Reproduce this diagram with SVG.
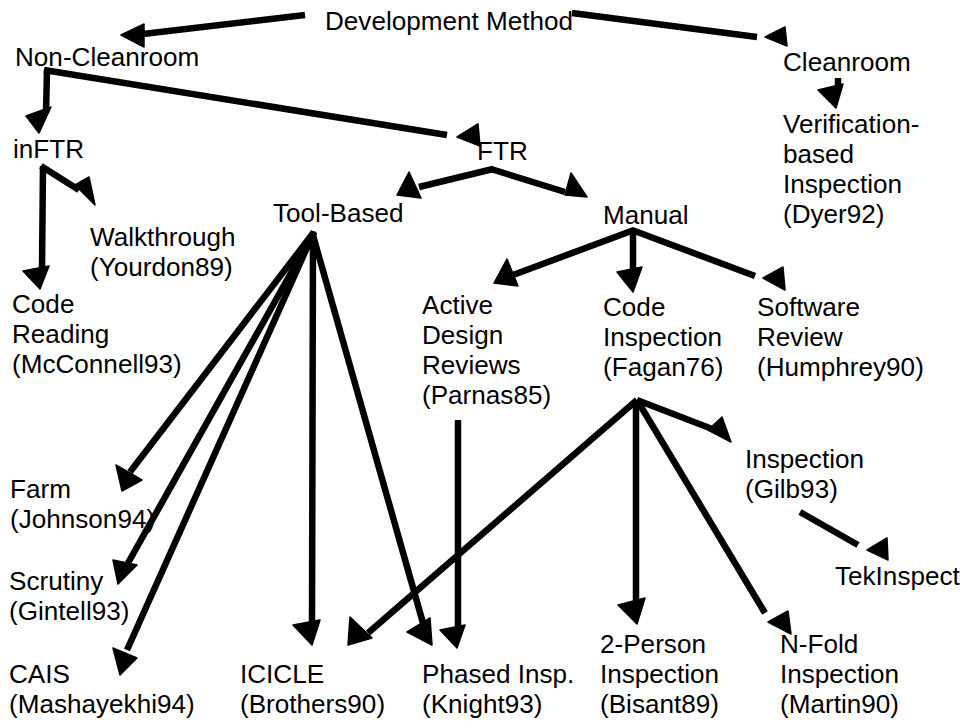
<svg xmlns="http://www.w3.org/2000/svg" width="965" height="724" viewBox="0 0 965 724">
<style>
text{font-family:"Liberation Sans",Arial,sans-serif;font-size:25px;fill:#000}
.c line{stroke:#000;stroke-width:6.5;stroke-linecap:butt}
.c polygon{fill:#000;stroke:#000;stroke-width:1.5;stroke-linejoin:round}
</style>
<rect width="965" height="724" fill="#fff"/>
<g id="connectors" class="c">
<line x1="305" y1="15" x2="143" y2="34"/><polygon points="121,35 144,24 144,47"/>
<line x1="572" y1="13" x2="757" y2="37"/><polygon points="765,37 785,27 787,46"/>
<line x1="47" y1="70" x2="46" y2="112"/><polygon points="26,116 51,107 39,133"/>
<line x1="44" y1="70" x2="447" y2="135"/><polygon points="457,137 478,124 480,146"/>
<line x1="43" y1="166" x2="42" y2="268"/><polygon points="23,271 49,266 40,289"/>
<line x1="41" y1="166" x2="79" y2="190"/><polygon points="75,185 89,177 95,205"/>
<line x1="493" y1="169" x2="419" y2="187"/><polygon points="397,195 409,172 421,198"/>
<line x1="491" y1="169" x2="565" y2="192"/><polygon points="565,195 571,173 587,197"/>
<line x1="634" y1="230" x2="513" y2="275"/><polygon points="494,283 507,259 518,286"/>
<line x1="633" y1="230" x2="633" y2="270"/><polygon points="617,272 642,267 633,292"/>
<line x1="632" y1="230" x2="755" y2="276"/><polygon points="763,278 783,267 785,290"/>
<line x1="637" y1="400" x2="720" y2="432"/><polygon points="708,430 722,417 731,442"/>
<line x1="636" y1="400" x2="636" y2="605"/><polygon points="618,605 645,598 637,624"/>
<line x1="637" y1="400" x2="765" y2="613"/><polygon points="768,622 788,611 791,634"/>
<line x1="637" y1="400" x2="368" y2="633"/><polygon points="350,617 372,638 348,645"/>
<line x1="314" y1="232" x2="130" y2="472"/><polygon points="116,465 142,480 122,491"/>
<line x1="314" y1="232" x2="128" y2="563"/><polygon points="113,560 137,565 118,584"/>
<line x1="314" y1="232" x2="127" y2="650"/><polygon points="113,648 137,658 120,675"/>
<line x1="313" y1="232" x2="312" y2="623"/><polygon points="293,625 320,620 312,645"/>
<line x1="312" y1="232" x2="423" y2="623"/><polygon points="407,632 430,618 432,645"/>
<line x1="458" y1="420" x2="458" y2="627"/><polygon points="440,630 465,625 457,648"/>
<line x1="838" y1="78" x2="838" y2="90"/><polygon points="818,90 843,84 836,108"/>
<line x1="800" y1="512" x2="858" y2="545"/><polygon points="867,550 887,538 888,560"/>
</g>
<g id="n-dev" transform="translate(325,30) scale(1.045,1)"><text>Development Method</text></g>
<g id="n-noncleanroom" transform="translate(15,66) scale(1.045,1)"><text>Non-Cleanroom</text></g>
<g id="n-cleanroom" transform="translate(783,71) scale(1.045,1)"><text>Cleanroom</text></g>
<g id="n-verification" transform="translate(783,133) scale(1.045,1)"><text><tspan x="0" y="0">Verification-</tspan><tspan x="0" y="30">based</tspan><tspan x="0" y="60">Inspection</tspan><tspan x="0" y="90">(Dyer92)</tspan></text></g>
<g id="n-inftr" transform="translate(13,158) scale(1.045,1)"><text>inFTR</text></g>
<g id="n-ftr" transform="translate(477,160) scale(1.045,1)"><text>FTR</text></g>
<g id="n-tool" transform="translate(273,222) scale(1.045,1)"><text>Tool-Based</text></g>
<g id="n-manual" transform="translate(603,224) scale(1.045,1)"><text>Manual</text></g>
<g id="n-walk" transform="translate(90,246) scale(1.045,1)"><text><tspan x="0" y="0">Walkthrough</tspan><tspan x="0" y="30">(Yourdon89)</tspan></text></g>
<g id="n-codereading" transform="translate(12,313) scale(1.045,1)"><text><tspan x="0" y="0">Code</tspan><tspan x="0" y="30">Reading</tspan><tspan x="0" y="60">(McConnell93)</tspan></text></g>
<g id="n-adr" transform="translate(422,314) scale(1.045,1)"><text><tspan x="0" y="0">Active</tspan><tspan x="0" y="30">Design</tspan><tspan x="0" y="60">Reviews</tspan><tspan x="0" y="90">(Parnas85)</tspan></text></g>
<g id="n-codeinsp" transform="translate(603,316) scale(1.045,1)"><text><tspan x="0" y="0">Code</tspan><tspan x="0" y="30">Inspection</tspan><tspan x="0" y="60">(Fagan76)</tspan></text></g>
<g id="n-software" transform="translate(757,316) scale(1.045,1)"><text><tspan x="0" y="0">Software</tspan><tspan x="0" y="30">Review</tspan><tspan x="0" y="60">(Humphrey90)</tspan></text></g>
<g id="n-gilb" transform="translate(745,468) scale(1.045,1)"><text><tspan x="0" y="0">Inspection</tspan><tspan x="0" y="30">(Gilb93)</tspan></text></g>
<g id="n-tek" transform="translate(835,585) scale(1.045,1)"><text>TekInspect</text></g>
<g id="n-farm" transform="translate(10,498) scale(1.045,1)"><text><tspan x="0" y="0">Farm</tspan><tspan x="0" y="30">(Johnson94)</tspan></text></g>
<g id="n-scrutiny" transform="translate(9,590) scale(1.045,1)"><text><tspan x="0" y="0">Scrutiny</tspan><tspan x="0" y="30">(Gintell93)</tspan></text></g>
<g id="n-cais" transform="translate(9,683) scale(1.045,1)"><text><tspan x="0" y="0">CAIS</tspan><tspan x="0" y="30">(Mashayekhi94)</tspan></text></g>
<g id="n-icicle" transform="translate(240,683) scale(1.045,1)"><text><tspan x="0" y="0">ICICLE</tspan><tspan x="0" y="30">(Brothers90)</tspan></text></g>
<g id="n-phased" transform="translate(422,683) scale(1.045,1)"><text><tspan x="0" y="0">Phased Insp.</tspan><tspan x="0" y="30">(Knight93)</tspan></text></g>
<g id="n-2person" transform="translate(600,653) scale(1.045,1)"><text><tspan x="0" y="0">2-Person</tspan><tspan x="0" y="30">Inspection</tspan><tspan x="0" y="60">(Bisant89)</tspan></text></g>
<g id="n-nfold" transform="translate(780,653) scale(1.045,1)"><text><tspan x="0" y="0">N-Fold</tspan><tspan x="0" y="30">Inspection</tspan><tspan x="0" y="60">(Martin90)</tspan></text></g>
</svg>
